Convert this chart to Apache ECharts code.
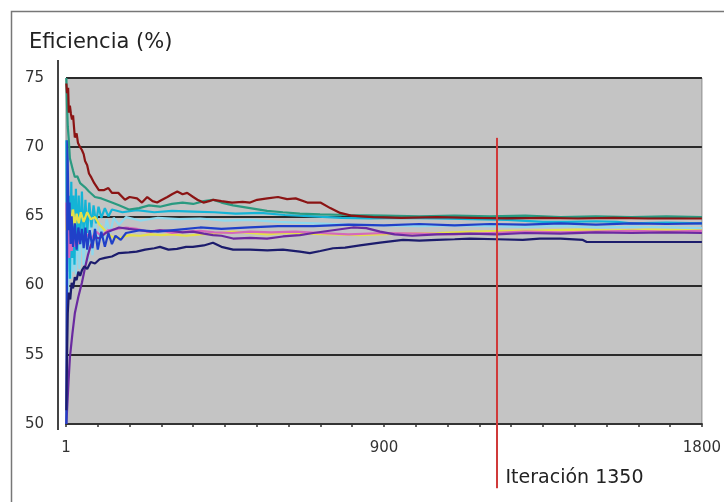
<!DOCTYPE html>
<html>
<head>
<meta charset="utf-8">
<script src="https://cdn.jsdelivr.net/npm/echarts@6/dist/echarts.min.js"></script>
<style>
  html, body { margin: 0; padding: 0; background: #fff; }
  #chart { width: 724px; height: 502px; }
</style>
</head>
<body>
<div id="chart"></div>
<script>
// eje x: iteraciones 1..1800, eje y: eficiencia (%)
var xTicks = { 0: '1', 900: '900', 1800: '1800' };
var yMin = 50, yMax = 75, yStep = 5;

var granate = [[1,74.6],[3,73.9],[6,74.3],[8,72.5],[11,73.0],[14,72.4],[17,72.0],[20,72.3],[25,70.7],[30,71.0],[34,70.3],[40,70.0],[45,69.8],[50,69.5],[54,69.0],[60,68.7],[65,68.1],[72,67.8],[80,67.4],[93,66.9],[108,66.9],[120,67.05],[130,66.7],[148,66.7],[167,66.2],[180,66.4],[201,66.3],[215,66.0],[230,66.4],[245,66.1],[258,66.0],[272,66.2],[287,66.4],[300,66.6],[315,66.8],[330,66.6],[343,66.7],[360,66.4],[372,66.2],[389,66.0],[405,66.1],[417,66.2],[440,66.1],[470,66.0],[500,66.05],[521,66.0],[541,66.2],[570,66.3],[600,66.4],[626,66.25],[650,66.3],[683,66.0],[720,66.0],[748,65.6],[776,65.25],[810,65.05],[870,64.95],[950,64.9],[1050,64.95],[1150,64.9],[1250,64.85],[1350,64.9],[1450,64.85],[1550,64.9],[1650,64.85],[1800,64.85]];

var verde = [[1,75],[3,73],[5,71.5],[8,70.5],[11,69.2],[15,68.8],[20,68.3],[25,67.85],[32,67.9],[40,67.4],[54,67.1],[65,66.8],[82,66.4],[100,66.3],[130,66.0],[150,65.8],[178,65.5],[207,65.6],[235,65.8],[266,65.7],[300,65.9],[330,66.0],[360,65.9],[390,66.1],[416,66.2],[440,66.0],[473,65.8],[521,65.6],[569,65.4],[614,65.3],[662,65.2],[719,65.15],[800,65.1],[900,65.05],[1000,65.0],[1100,65.05],[1200,65.0],[1300,65.05],[1400,64.95],[1500,65.0],[1600,64.95],[1700,65.0],[1800,64.95]];

var cian = [[1,70.5],[2,66],[3,61],[4,64],[5,68],[7,62],[9,66.5],[11,60.5],[13,64],[15,67.5],[18,62],[21,66.5],[24,61.5],[28,67],[32,62.5],[36,66.5],[40,63],[45,66.8],[50,63.5],[55,66.2],[60,63.8],[66,66],[72,64.2],[78,65.8],[85,64.5],[92,65.7],[100,64.9],[110,65.6],[120,65.0],[130,65.5],[160,65.3],[200,65.45],[250,65.3],[300,65.4],[360,65.35],[420,65.3],[480,65.2],[550,65.25],[620,65.1],[700,65.0],[780,64.9],[860,64.85],[950,64.9],[1050,64.85],[1150,64.8],[1250,64.75],[1350,64.6],[1420,64.6],[1500,64.65],[1560,64.6],[1600,64.5],[1700,64.55],[1800,64.5]];

var celeste = [[1,60],[2,64],[3,68.5],[4,63],[6,59.5],[8,65],[10,61],[12,66],[14,60.5],[17,64.5],[20,61],[24,65.5],[28,60.8],[33,65],[38,61.2],[44,64.9],[50,61.5],[56,64.9],[62,61.8],[68,64.6],[75,62.2],[82,64.8],[90,62.6],[98,64.5],[106,63.2],[115,64.8],[125,63.8],[135,64.9],[150,64.4],[170,64.95],[210,64.7],[260,64.9],[320,64.8],[380,64.85],[450,64.7],[520,64.75],[600,64.6],[700,64.5],[800,64.4],[900,64.35],[1000,64.3],[1100,64.35],[1200,64.3],[1300,64.25],[1400,64.3],[1500,64.2],[1600,64.25],[1700,64.2],[1800,64.15]];

var azul = [[1,50],[2,56],[3,62],[4,70.5],[6,67],[8,64],[10,66],[13,63],[16,65],[20,62.8],[25,64.5],[30,62.6],[35,64.2],[40,63],[45,64.1],[50,62.7],[55,64.2],[60,62.6],[67,64.0],[75,62.7],[82,64.1],[90,62.6],[100,63.9],[110,62.8],[120,63.8],[130,63.0],[140,63.6],[155,63.3],[170,63.8],[210,64.0],[260,63.9],[320,64.05],[380,64.2],[440,64.1],[520,64.2],[600,64.3],[700,64.3],[800,64.4],[900,64.35],[1000,64.45],[1100,64.35],[1200,64.45],[1300,64.4],[1400,64.5],[1500,64.4],[1600,64.5],[1700,64.45],[1800,64.5]];

var marino = [[1,51],[3,55],[5,58],[8,59.5],[12,59],[16,60.2],[20,59.8],[25,60.6],[30,60.4],[35,61.0],[40,60.7],[45,61.1],[52,61.4],[60,61.2],[70,61.7],[82,61.6],[95,61.9],[110,62.0],[130,62.1],[150,62.35],[178,62.4],[200,62.45],[224,62.6],[250,62.7],[266,62.8],[290,62.6],[314,62.65],[340,62.8],[359,62.8],[390,62.9],[416,63.1],[440,62.8],[473,62.6],[521,62.6],[570,62.55],[614,62.6],[662,62.45],[690,62.35],[720,62.5],[756,62.7],[790,62.75],[832,62.9],[889,63.1],[954,63.3],[1000,63.25],[1050,63.3],[1100,63.35],[1143,63.4],[1220,63.35],[1293,63.3],[1341,63.4],[1400,63.4],[1463,63.3],[1474,63.15],[1550,63.15],[1650,63.15],[1800,63.15]];

var morado = [[1,50],[4,51.5],[7,53],[11,54.8],[18,56.5],[25,58],[35,59.2],[45,60.2],[54,61.3],[62,62.2],[70,62.9],[82,63.5],[95,63.4],[112,63.8],[130,64.0],[150,64.2],[178,64.1],[210,64.0],[240,63.9],[266,64.0],[300,63.95],[330,63.85],[359,63.9],[390,63.75],[416,63.65],[440,63.6],[473,63.4],[521,63.45],[569,63.4],[614,63.55],[662,63.65],[700,63.8],[756,64.0],[812,64.2],[850,64.15],[889,63.9],[930,63.7],[980,63.6],[1050,63.7],[1143,63.75],[1220,63.7],[1300,63.8],[1400,63.75],[1500,63.85],[1600,63.8],[1700,63.85],[1800,63.8]];

var rosa = [[1,66],[3,63],[6,64.5],[9,62],[12,64],[16,62.5],[20,63.8],[25,62.8],[30,63.5],[36,63],[42,63.6],[50,63.2],[60,63.7],[72,63.4],[85,63.9],[100,63.6],[120,64.0],[145,64.1],[170,64.2],[200,64.1],[230,63.9],[266,64.0],[300,63.8],[340,63.9],[380,63.95],[420,63.85],[470,63.8],[520,63.9],[580,63.85],[650,63.9],[720,63.8],[800,63.7],[900,63.8],[1000,63.75],[1100,63.7],[1200,63.8],[1300,63.9],[1400,63.85],[1500,63.9],[1600,63.95],[1700,63.9],[1800,63.95]];

var amarillo = [[1,64],[4,66],[8,63.5],[12,65.5],[16,64],[20,65.5],[25,64.3],[30,65.2],[36,64.5],[42,65.3],[50,64.6],[60,65.3],[70,64.8],[82,64.95],[95,64.4],[110,64.0],[125,63.6],[140,63.4],[160,63.5],[180,63.65],[210,63.6],[240,63.7],[270,63.65],[300,63.7],[340,63.6],[380,63.7],[420,63.75],[473,63.9],[520,63.8],[570,63.7],[620,63.8],[680,63.75],[750,63.7],[832,63.65],[889,63.7],[950,63.75],[1050,63.8],[1150,63.9],[1250,63.95],[1350,64.0],[1450,64.05],[1550,64.0],[1650,64.05],[1800,64.0]];

// linea de corte (posicion)
var corteX = 1220;
var corteY = [70.67, 45.38];
var corteTexto = 'Iteración 1350';

var chart = echarts.init(document.getElementById('chart'));

function serie(nombre, datos, color) {
  return {
    name: nombre,
    type: 'line',
    data: datos,
    showSymbol: false,
    symbol: 'none',
    lineStyle: { color: color, width: 2.2 },
    itemStyle: { color: color },
    silent: true
  };
}

var option = {
  animation: false,
  backgroundColor: '#ffffff',
  title: {
    text: 'Eficiencia (%)',
    left: 24,
    top: 27,
    textStyle: { fontFamily: 'DejaVu Sans', fontSize: 21, fontWeight: 'normal', color: '#222' }
  },
  graphic: [
    { type: 'rect', shape: { x: 11.5, y: 11.5, width: 740, height: 540 }, style: { fill: 'none', stroke: '#777', lineWidth: 1.5 } },
    { type: 'line', shape: { x1: 58, y1: 60, x2: 58, y2: 430 }, style: { stroke: '#444', lineWidth: 2 } }
  ],
  grid: {
    left: 66, right: 22, top: 78, bottom: 78,
    show: true,
    backgroundColor: '#c4c4c4',
    borderColor: '#8a8a8a',
    borderWidth: 1
  },
  xAxis: {
    type: 'value',
    min: 0, max: 1800, interval: 90,
    axisLine: { show: true, lineStyle: { color: '#333', width: 2 } },
    axisTick: { show: true, length: 3, lineStyle: { color: '#333', width: 1.5 } },
    splitLine: { show: false },
    axisLabel: {
      margin: 17,
      fontFamily: 'DejaVu Sans', fontSize: 15, color: '#333',
      formatter: function (v) { return xTicks[v] || ''; }
    }
  },
  yAxis: {
    type: 'value',
    min: yMin, max: yMax, interval: yStep,
    axisLine: { show: false },
    axisTick: { show: false },
    splitLine: { show: true, lineStyle: { color: '#2a2a2a', width: 2 } },
    axisLabel: { margin: 22, fontFamily: 'DejaVu Sans', fontSize: 15, color: '#333' }
  },
  series: [
    serie('celeste', celeste, '#8fd8ec'),
    serie('cian', cian, '#14b4d6'),
    serie('amarillo', amarillo, '#e4e04a'),
    serie('rosa', rosa, '#d468bc'),
    serie('morado', morado, '#6a2aa0'),
    serie('azul', azul, '#2040c8'),
    serie('marino', marino, '#1c1c6c'),
    serie('verde', verde, '#2a9a80'),
    serie('granate', granate, '#8b1414'),
    {
      name: 'corte',
      type: 'line',
      clip: false,
      silent: true,
      symbol: 'circle',
      symbolSize: 1,
      showSymbol: true,
      lineStyle: { color: '#d03a3a', width: 2 },
      itemStyle: { color: '#d03a3a' },
      data: [
        [corteX, corteY[0]],
        {
          value: [corteX, corteY[1]],
          label: {
            show: true, position: 'right', distance: 8, offset: [0, -10],
            formatter: corteTexto,
            fontFamily: 'DejaVu Sans', fontSize: 19, color: '#222'
          }
        }
      ]
    }
  ]
};

chart.setOption(option);
</script>
</body>
</html>
